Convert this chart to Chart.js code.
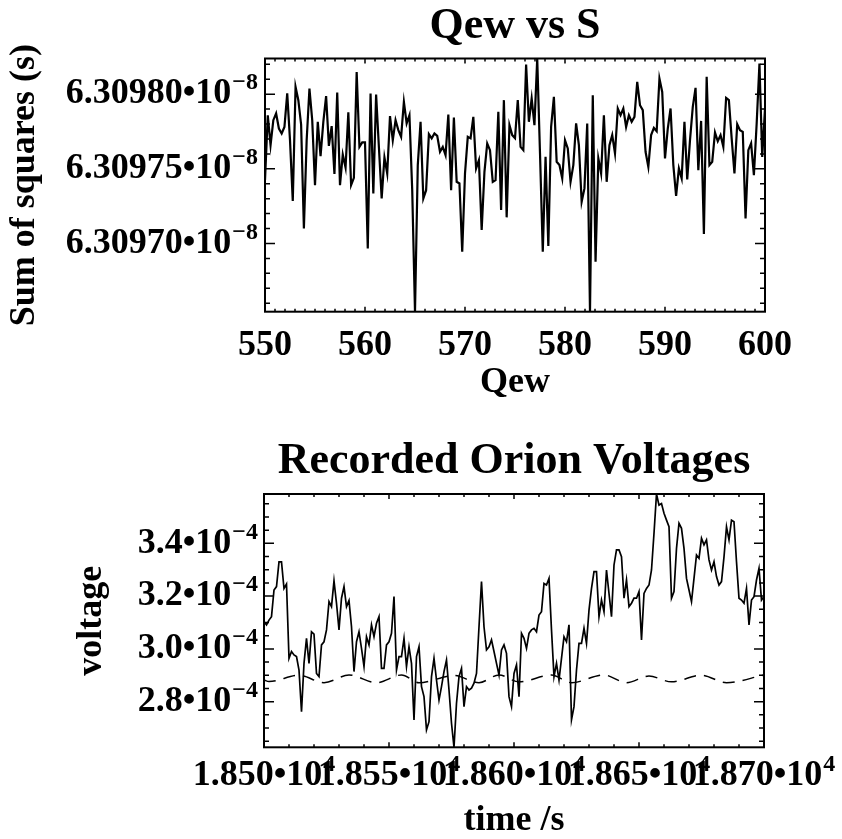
<!DOCTYPE html>
<html><head><meta charset="utf-8">
<script src="https://cdn.jsdelivr.net/npm/chart.js@4.4.1/dist/chart.umd.min.js"></script>
<style>
html,body{margin:0;padding:0;background:#fff;width:842px;height:839px;overflow:hidden;}
canvas{position:absolute;left:0;}
#c1{top:0;}
#c2{top:420px;}
</style></head><body>
<canvas id="c1" width="842" height="420"></canvas>
<canvas id="c2" width="842" height="419"></canvas>
<script>
// ---------- Chart 1: Qew vs S ----------
const qewStart = 550;
const qewStep = 50 / 180;
const sumSquares = [
6.3097424e-8,6.3097859e-8,6.3097659e-8,6.3097826e-8,6.3097871e-8,6.3097770e-8,6.3097737e-8,6.3097781e-8,6.3098005e-8,6.3097692e-8,
6.3097284e-8,6.3098049e-8,6.3097960e-8,6.3097797e-8,6.3097101e-8,6.3097692e-8,6.3098038e-8,6.3097826e-8,6.3097391e-8,6.3097815e-8,
6.3097585e-8,6.3097815e-8,6.3097987e-8,6.3097654e-8,6.3097786e-8,6.3097465e-8,6.3098011e-8,6.3097391e-8,6.3097596e-8,6.3097509e-8,
6.3097878e-8,6.3097391e-8,6.3097440e-8,6.3098149e-8,6.3097647e-8,6.3097677e-8,6.3097677e-8,6.3096967e-8,6.3098005e-8,6.3097335e-8,
6.3097998e-8,6.3097647e-8,6.3097302e-8,6.3097576e-8,6.3097469e-8,6.3097853e-8,6.3097692e-8,6.3097826e-8,6.3097759e-8,6.3097714e-8,
6.3097948e-8,6.3097804e-8,6.3097859e-8,6.3097357e-8,6.3096543e-8,6.3097525e-8,6.3097815e-8,6.3097302e-8,6.3097357e-8,6.3097732e-8,
6.3097704e-8,6.3097737e-8,6.3097721e-8,6.3097614e-8,6.3097647e-8,6.3097592e-8,6.3097864e-8,6.3097357e-8,6.3097844e-8,6.3097413e-8,
6.3097402e-8,6.3096945e-8,6.3097469e-8,6.3097714e-8,6.3097704e-8,6.3097848e-8,6.3097503e-8,6.3097558e-8,6.3097090e-8,6.3097480e-8,
6.3097670e-8,6.3097625e-8,6.3097413e-8,6.3097424e-8,6.3097882e-8,6.3097224e-8,6.3097960e-8,6.3097175e-8,6.3097793e-8,6.3097726e-8,
6.3097706e-8,6.3097960e-8,6.3097647e-8,6.3097625e-8,6.3098199e-8,6.3097815e-8,6.3097971e-8,6.3097793e-8,6.3098239e-8,6.3097605e-8,
6.3096945e-8,6.3097580e-8,6.3096983e-8,6.3097781e-8,6.3097982e-8,6.3097547e-8,6.3097525e-8,6.3097436e-8,6.3097692e-8,6.3097637e-8,
6.3097413e-8,6.3097525e-8,6.3097804e-8,6.3097659e-8,6.3097279e-8,6.3097369e-8,6.3097804e-8,6.3096543e-8,6.3097993e-8,6.3096878e-8,
6.3097570e-8,6.3097469e-8,6.3097859e-8,6.3097413e-8,6.3097659e-8,6.3097726e-8,6.3097603e-8,6.3097904e-8,6.3097859e-8,6.3097904e-8,
6.3097781e-8,6.3097859e-8,6.3097815e-8,6.3097848e-8,6.3098082e-8,6.3097926e-8,6.3097893e-8,6.3097614e-8,6.3097513e-8,6.3097726e-8,
6.3097774e-8,6.3097752e-8,6.3098105e-8,6.3098015e-8,6.3097570e-8,6.3097770e-8,6.3097904e-8,6.3097525e-8,6.3097319e-8,6.3097503e-8,
6.3097436e-8,6.3097815e-8,6.3097429e-8,6.3097692e-8,6.3097915e-8,6.3098042e-8,6.3097491e-8,6.3097821e-8,6.3097063e-8,6.3098116e-8,
6.3097525e-8,6.3097547e-8,6.3097744e-8,6.3097685e-8,6.3097726e-8,6.3097647e-8,6.3097975e-8,6.3097960e-8,6.3097704e-8,6.3097469e-8,
6.3097799e-8,6.3097759e-8,6.3097748e-8,6.3097168e-8,6.3097625e-8,6.3097670e-8,6.3097458e-8,6.3097804e-8,6.3098205e-8,6.3097580e-8,
6.3097904e-8
];
const qewTicks = [550, 560, 570, 580, 590, 600];
const qewTickLabels = ['550', '560', '570', '580', '590', '600'];
const sumTicks = [6.30970e-8, 6.30975e-8, 6.30980e-8];
const sumTickLabels = ['6.30970•10', '6.30975•10', '6.30980•10'];
const sumTickExponents = ['−8', '−8', '−8'];

// ---------- Chart 2: Recorded Orion Voltages ----------
const timeStart = 18500;
const timeStep = 1;
const voltage = [
3.103e-4,3.091e-4,3.109e-4,3.122e-4,3.223e-4,3.236e-4,3.330e-4,3.330e-4,3.229e-4,3.246e-4,
2.964e-4,2.990e-4,2.977e-4,2.971e-4,2.920e-4,2.762e-4,2.945e-4,3.040e-4,2.945e-4,3.065e-4,
3.056e-4,2.907e-4,2.895e-4,3.015e-4,3.027e-4,3.072e-4,3.179e-4,3.160e-4,3.258e-4,3.173e-4,
3.072e-4,3.192e-4,3.236e-4,3.160e-4,3.183e-4,3.084e-4,2.914e-4,3.027e-4,3.065e-4,3.002e-4,
2.933e-4,3.046e-4,3.015e-4,3.091e-4,3.046e-4,3.097e-4,3.122e-4,2.926e-4,2.926e-4,3.015e-4,
3.027e-4,3.059e-4,3.198e-4,2.920e-4,2.971e-4,2.971e-4,3.040e-4,2.933e-4,3.008e-4,2.945e-4,
2.731e-4,2.971e-4,3.008e-4,2.857e-4,2.819e-4,2.693e-4,2.724e-4,2.895e-4,2.964e-4,2.882e-4,
2.806e-4,2.857e-4,2.914e-4,2.958e-4,2.844e-4,2.718e-4,2.627e-4,2.794e-4,2.895e-4,2.926e-4,
2.781e-4,2.857e-4,2.844e-4,2.851e-4,2.870e-4,2.907e-4,3.084e-4,3.255e-4,3.084e-4,2.996e-4,
3.008e-4,3.034e-4,2.990e-4,2.945e-4,2.901e-4,2.996e-4,3.015e-4,2.983e-4,2.819e-4,2.781e-4,
2.907e-4,2.939e-4,2.819e-4,3.059e-4,3.040e-4,3.002e-4,3.059e-4,3.072e-4,3.078e-4,3.065e-4,
3.128e-4,3.141e-4,3.248e-4,3.242e-4,3.267e-4,3.072e-4,2.895e-4,2.945e-4,2.882e-4,2.964e-4,
3.046e-4,3.027e-4,3.091e-4,2.731e-4,2.781e-4,2.920e-4,3.021e-4,3.021e-4,3.078e-4,3.021e-4,
3.147e-4,3.229e-4,3.293e-4,3.293e-4,3.122e-4,3.185e-4,3.141e-4,3.299e-4,3.210e-4,3.122e-4,
3.318e-4,3.375e-4,3.375e-4,3.349e-4,3.192e-4,3.261e-4,3.160e-4,3.173e-4,3.192e-4,3.192e-4,
3.217e-4,3.034e-4,3.210e-4,3.229e-4,3.242e-4,3.299e-4,3.438e-4,3.587e-4,3.545e-4,3.551e-4,
3.514e-4,3.488e-4,3.463e-4,3.192e-4,3.217e-4,3.381e-4,3.476e-4,3.457e-4,3.381e-4,3.267e-4,
3.223e-4,3.179e-4,3.267e-4,3.356e-4,3.343e-4,3.419e-4,3.394e-4,3.413e-4,3.337e-4,3.299e-4,
3.330e-4,3.274e-4,3.242e-4,3.255e-4,3.349e-4,3.463e-4,3.413e-4,3.488e-4,3.482e-4,3.330e-4,
3.192e-4,3.185e-4,3.173e-4,3.229e-4,3.091e-4,3.185e-4,3.198e-4,3.261e-4,3.305e-4,3.185e-4,
3.198e-4
];
const modelTimes = [18500,18502,18514,18524,18534,18545,18555,18562,18576,18586,18594,18602,18615,18623,18636,18645,18654,18663,18675,18685,18700];
const modelVoltage = [2.882e-4,2.876e-4,2.900e-4,2.872e-4,2.901e-4,2.872e-4,2.901e-4,2.872e-4,2.899e-4,2.872e-4,2.901e-4,2.875e-4,2.901e-4,2.872e-4,2.901e-4,2.872e-4,2.897e-4,2.875e-4,2.900e-4,2.872e-4,2.901e-4];
const timeTicks = [18500, 18550, 18600, 18650, 18700];
const timeTickLabels = ['1.850•10', '1.855•10', '1.860•10', '1.865•10', '1.870•10'];
const timeTickExponents = ['4', '4', '4', '4', '4'];
const voltTicks = [2.8e-4, 3.0e-4, 3.2e-4, 3.4e-4];
const voltTickLabels = ['2.8•10', '3.0•10', '3.2•10', '3.4•10'];
const voltTickExponents = ['−4', '−4', '−4', '−4'];

// ---------- common ----------
const FAM = "'Liberation Serif', 'Times New Roman', serif";
Chart.defaults.font.family = FAM;
Chart.defaults.font.weight = 'bold';
Chart.defaults.color = '#000';
const SUP_FONT = "bold 24px 'Liberation Serif', 'Times New Roman', serif";
const SUP_GAP = 1, SUP_RAISE = 14;

const mctx = document.createElement('canvas').getContext('2d');
mctx.font = SUP_FONT;
const supW8 = mctx.measureText('−8').width;
const supW4n = mctx.measureText('−4').width;
const supW4 = mctx.measureText('4').width;

const idlFrame = {
  id: 'idlFrame',
  afterDraw(chart, args, o) {
    const {ctx, chartArea: a, scales: {x, y}} = chart;
    ctx.save();
    ctx.strokeStyle = '#000';
    ctx.lineWidth = o.tickWidth;
    ctx.beginPath();
    let k0 = Math.ceil(x.min / o.xMinor - 1e-6), k1 = Math.floor(x.max / o.xMinor + 1e-6);
    for (let k = k0; k <= k1; k++) {
      const p = x.getPixelForValue(k * o.xMinor);
      const L = (k % o.xEvery === 0) ? o.xLen[0] : o.xLen[1];
      ctx.moveTo(p, a.bottom); ctx.lineTo(p, a.bottom - L);
      ctx.moveTo(p, a.top); ctx.lineTo(p, a.top + L);
    }
    k0 = Math.ceil(y.min / o.yMinor - 1e-6); k1 = Math.floor(y.max / o.yMinor + 1e-6);
    for (let k = k0; k <= k1; k++) {
      const p = y.getPixelForValue(k * o.yMinor);
      const L = (k % o.yEvery === 0) ? o.yLen[0] : o.yLen[1];
      ctx.moveTo(a.left, p); ctx.lineTo(a.left + L, p);
      ctx.moveTo(a.right, p); ctx.lineTo(a.right - L, p);
    }
    ctx.stroke();
    ctx.lineWidth = o.frameWidth;
    ctx.strokeRect(a.left, a.top, a.right - a.left, a.bottom - a.top);
    ctx.restore();
  }
};

// draws the exponent (superscript) part of each tick label right after the label Chart.js drew
const supLabels = {
  id: 'supLabels',
  afterDraw(chart, args, o) {
    const ctx = chart.ctx;
    ctx.save();
    ctx.fillStyle = '#000';
    for (const axis of ['x', 'y']) {
      const exps = o[axis];
      if (!exps) continue;
      const items = chart.scales[axis].getLabelItems();
      items.forEach((it, i) => {
        const e = exps[i];
        if (!e) return;
        ctx.font = it.font.string;
        ctx.textBaseline = 'middle';
        const w = ctx.measureText(it.label).width;
        const m = ctx.measureText('1').actualBoundingBoxDescent;
        const tx = it.options.translation[0], ty = it.options.translation[1];
        const align = it.options.textAlign;
        const xEnd = align === 'right' ? tx : (align === 'center' ? tx + w / 2 : tx + w);
        const baseLine = ty + (it.textOffset || 0) + m;
        ctx.font = SUP_FONT;
        ctx.textBaseline = 'alphabetic';
        ctx.textAlign = 'left';
        ctx.fillText(e, xEnd + SUP_GAP, baseLine - SUP_RAISE);
      });
    }
    ctx.restore();
  }
};

function font(size, lh) { return {family: FAM, size: size, weight: 'bold', lineHeight: lh}; }

// ---------- Chart 1 ----------
new Chart(document.getElementById('c1'), {
  type: 'line',
  data: {datasets: [{
    data: sumSquares.map((v, i) => ({x: qewStart + i * qewStep, y: v})),
    borderColor: '#000', borderWidth: 2.2, pointRadius: 0, tension: 0, fill: false
  }]},
  options: {
    responsive: false, animation: false, devicePixelRatio: 1,
    layout: {padding: {left: 0, right: 77, top: 0, bottom: 0}},
    plugins: {
      legend: {display: false}, tooltip: {enabled: false},
      title: {display: true, text: 'Qew vs S', fullSize: false, color: '#000', font: font(44, 1.2), padding: {top: 0, bottom: 5.7}},
      idlFrame: {xMinor: 1, xEvery: 10, xLen: [5, 3], yMinor: 1e-13, yEvery: 5, yLen: [10, 5], tickWidth: 1.5, frameWidth: 2},
      supLabels: {y: sumTickExponents}
    },
    scales: {
      x: {
        type: 'linear', min: qewTicks[0], max: qewTicks[qewTicks.length - 1],
        afterBuildTicks: s => { s.ticks = qewTicks.map(v => ({value: v})); },
        afterFit: s => { s.height = 108.3; },
        grid: {display: false, drawTicks: false}, border: {display: false},
        ticks: {autoSkip: false, maxRotation: 0, minRotation: 0, padding: 16.3, color: '#000', font: font(36, 1),
          callback: (v, i) => qewTickLabels[i]},
        title: {display: true, text: 'Qew', color: '#000', font: font(36, 1), padding: {top: 0, bottom: 19.2}}
      },
      y: {
        type: 'linear', min: Math.min(...sumSquares), max: Math.max(...sumSquares),
        afterBuildTicks: s => { s.ticks = sumTicks.map(v => ({value: v})); },
        afterFit: s => { s.width = 265; },
        grid: {display: false, drawTicks: false}, border: {display: false},
        ticks: {autoSkip: false, padding: 7 + supW8 + SUP_GAP, color: '#000', font: font(36, 1),
          callback: (v, i) => sumTickLabels[i]},
        title: {display: true, text: 'Sum of squares (s)', color: '#000', font: font(36, 1), padding: {top: 7, bottom: 0}}
      }
    }
  },
  plugins: [idlFrame, supLabels]
});

// ---------- Chart 2 ----------
new Chart(document.getElementById('c2'), {
  type: 'line',
  data: {datasets: [
    {
      data: voltage.map((v, i) => ({x: timeStart + i * timeStep, y: v})),
      borderColor: '#000', borderWidth: 1.7, pointRadius: 0, tension: 0, fill: false
    },
    {
      data: modelTimes.map((t, i) => ({x: t, y: modelVoltage[i]})),
      borderColor: '#000', borderWidth: 1.5, borderDash: [12, 8], pointRadius: 0,
      cubicInterpolationMode: 'monotone', fill: false
    }
  ]},
  options: {
    responsive: false, animation: false, devicePixelRatio: 1,
    layout: {padding: {left: 0, right: 78, top: 0, bottom: 0}},
    plugins: {
      legend: {display: false}, tooltip: {enabled: false},
      title: {display: true, text: 'Recorded Orion Voltages', fullSize: false, color: '#000', font: font(44, 1.2), padding: {top: 14.8, bottom: 6.4}},
      idlFrame: {xMinor: 10, xEvery: 5, xLen: [5, 3], yMinor: 5e-6, yEvery: 4, yLen: [10, 5], tickWidth: 1.5, frameWidth: 2},
      supLabels: {x: timeTickExponents, y: voltTickExponents}
    },
    scales: {
      x: {
        type: 'linear', min: timeTicks[0], max: timeTicks[timeTicks.length - 1],
        afterBuildTicks: s => { s.ticks = timeTicks.map(v => ({value: v})); },
        afterFit: s => { s.height = 91.7; },
        grid: {display: false, drawTicks: false}, border: {display: false},
        ticks: {autoSkip: false, maxRotation: 0, minRotation: 0, padding: 10.7, labelOffset: -(supW4 + SUP_GAP) / 2,
          color: '#000', font: font(36, 1), callback: (v, i) => timeTickLabels[i]},
        title: {display: true, text: 'time /s', color: '#000', font: font(36, 1), padding: {top: 0, bottom: 0.5}}
      },
      y: {
        type: 'linear', min: Math.min(...voltage), max: Math.max(...voltage),
        afterBuildTicks: s => { s.ticks = voltTicks.map(v => ({value: v})); },
        afterFit: s => { s.width = 264; },
        grid: {display: false, drawTicks: false}, border: {display: false},
        ticks: {autoSkip: false, padding: 6 + supW4n + SUP_GAP, color: '#000', font: font(36, 1),
          callback: (v, i) => voltTickLabels[i]},
        title: {display: true, text: 'voltage', color: '#000', font: font(36, 1), padding: {top: 74, bottom: 0}}
      }
    }
  },
  plugins: [idlFrame, supLabels]
});
</script>
</body></html>
